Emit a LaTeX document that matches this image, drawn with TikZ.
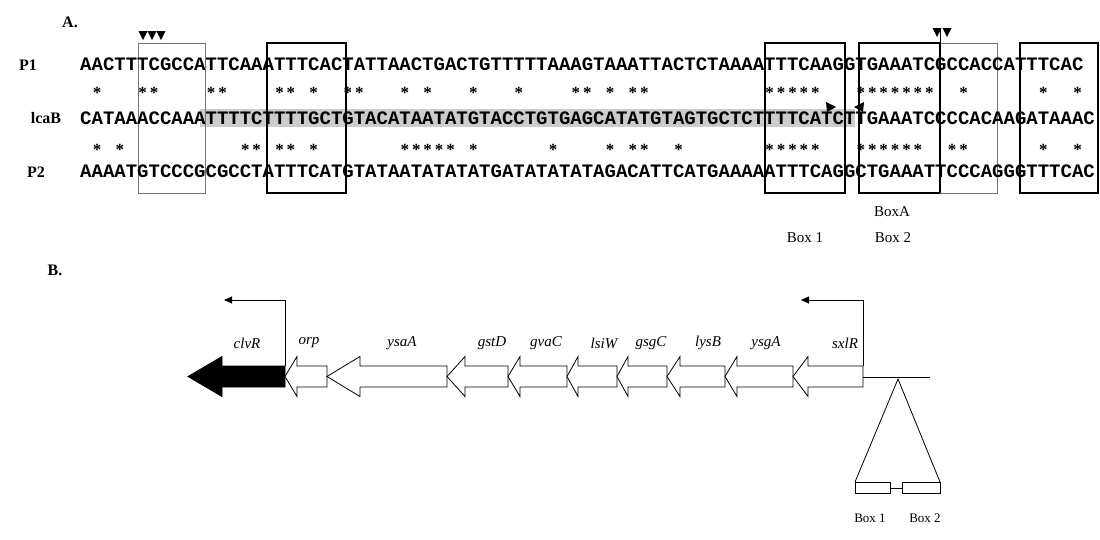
\documentclass[tikz,border=0pt]{standalone}
\usepackage{fontspec}
\setmainfont{Liberation Serif}
\newfontfamily\seqfont{Liberation Mono}
\usetikzlibrary{arrows.meta}
\begin{document}
\begin{tikzpicture}[x=1pt,y=-1pt,
  seq/.style={font=\seqfont\bfseries\fontsize{19}{19}\selectfont, anchor=west, inner sep=0pt},
  rowlbl/.style={font=\bfseries\fontsize{16}{16}\selectfont, inner sep=0pt},
  ast/.style={font=\bfseries\fontsize{17}{17}\selectfont, inner sep=0pt, anchor=base},
  part/.style={font=\bfseries\fontsize{16}{16}\selectfont, inner sep=0pt},
  boxlbl/.style={font=\fontsize{15}{15}\selectfont, inner sep=0pt},
  tbox/.style={draw=black, line width=1.4pt},
  thinbox/.style={draw=black!55, line width=0.7pt},
  blackmark/.style={fill=black},
  gene/.style={draw=black, line width=0.8pt, fill=white},
  blackgene/.style={draw=black, line width=0.8pt, fill=black},
  glabel/.style={font=\itshape\fontsize{15}{15}\selectfont, inner sep=0pt},
  prom/.style={line width=0.9pt, -{Triangle[length=8pt,width=7pt]}},
  plainline/.style={line width=0.8pt}
]
\useasboundingbox (0,0) rectangle (1100,539);

% ---------- Part A ----------
\node[part] (A) at (70,22) {A.};

% highlight behind lcaB
\fill[black!20] (200,109) rectangle (855,127);

% boxes
\draw[thinbox] (138,43) rectangle (205,193);
\draw[tbox] (267,43) rectangle (346,193);
\draw[tbox] (765,43) rectangle (845,193);
\draw[tbox] (859,43) rectangle (940,193);
\draw[thinbox] (940,43) rectangle (997,193);
\draw[tbox] (1020,43) rectangle (1098,193);
\draw[line width=1pt] (940,30) -- (940,193);

% triangles markers
\foreach \mx in {143,152,161} \fill[blackmark] (\mx-4.5,31) -- (\mx+4.5,31) -- (\mx,40) -- cycle;
\foreach \mx in {937,947} \fill[blackmark] (\mx-4.5,28) -- (\mx+4.5,28) -- (\mx,37) -- cycle;

% row labels
\node[rowlbl] (lP1) at (28,65) {P1};
\node[rowlbl] (llca) at (46,118) {lcaB};
\node[rowlbl] (lP2) at (36,172) {P2};

% sequences
\node[seq] (s1) at (80,64) {AACTTTCGCCATTCAAATTTCACTATTAACTGACTGTTTTTAAAGTAAATTACTCTAAAATTTCAAGGTGAAATCGCCACCATTTCAC};
\node[seq] (s2) at (80,118) {CATAAACCAAATTTTCTTTTGCTGTACATAATATGTACCTGTGAGCATATGTAGTGCTCTTTTCATCTTGAAATCCCCACAAGATAAAC};
\node[seq] (s3) at (80,171) {AAAATGTCCCGCGCCTATTTCATGTATAATATATATGATATATATAGACATTCATGAAAAATTTCAGGCTGAAATTCCCAGGGTTTCAC};

% identity stars
\foreach \i in {1,5,6,11,12,17,18,20,23,24,28,30,34,38,43,44,46,48,49,60,61,62,63,64,68,69,70,71,72,73,74,77,84,87}
  \node[ast] at ({80+(\i+0.5)*11.4},98) {*};
\foreach \i in {1,3,14,15,17,18,20,28,29,30,31,32,34,41,46,48,49,52,60,61,62,63,64,68,69,70,71,72,73,76,77,84,87}
  \node[ast] at ({80+(\i+0.5)*11.4},155) {*};

% small arrowheads on lcaB row
\fill[blackmark] (826,102) -- (836,107) -- (827,112) -- cycle;
\fill[blackmark] (864,102) -- (854,107) -- (863,112) -- cycle;

% box labels
\node[boxlbl] (bA) at (892,212) {BoxA};
\node[boxlbl] (b1) at (805,238) {Box 1};
\node[boxlbl] (b2) at (893,238) {Box 2};

% ---------- Part B ----------
\node[part] (B) at (55,270) {B.};

% black gene
\draw[blackgene] (188,376.5) -- (222,356.5) -- (222,366) -- (285,366) -- (285,387) -- (222,387) -- (222,396.5) -- cycle;
% white genes: tip, head base, end
\foreach \t/\b/\e in {285/297/327, 327/360/447, 447/465/508, 508/520/567, 567/578/617, 617/628/667, 667/680/725, 725/737/793, 793/808/863}
  \draw[gene] (\t,376.5) -- (\b,356.5) -- (\b,366) -- (\e,366) -- (\e,387) -- (\b,387) -- (\b,396.5) -- cycle;

% gene labels
\node[glabel] (g1) at (247,343) {clvR};
\node[glabel] (g2) at (309,343) {orp};
\node[glabel] (g3) at (402,343) {ysaA};
\node[glabel] (g4) at (492,343) {gstD};
\node[glabel] (g5) at (546,343) {gvaC};
\node[glabel] (g6) at (604,343) {lsiW};
\node[glabel] (g7) at (651,343) {gsgC};
\node[glabel] (g8) at (708,343) {lysB};
\node[glabel] (g9) at (766,343) {ysgA};
\node[glabel] (g10) at (845,343) {sxlR};

% promoters
\coordinate (p1a) at (285,366);
\coordinate (p1b) at (285,300);
\coordinate (p1c) at (224,300);
\draw[prom] (p1a) -- (p1b) -- (p1c);
\coordinate (p2a) at (863,366);
\coordinate (p2b) at (863,300);
\coordinate (p2c) at (801,300);
\draw[prom] (p2a) -- (p2b) -- (p2c);

% line and zoom triangle
\draw[plainline] (863,377) -- (930,377);
\coordinate (apex) at (898,379);
\draw[plainline] (855,482) -- (apex) -- (940,482);
\node[draw, line width=1pt, minimum width=35pt, minimum height=11pt, inner sep=0pt, anchor=north west] (bx1) at (855,482) {};
\node[draw, line width=1pt, minimum width=38pt, minimum height=11pt, inner sep=0pt, anchor=north west] (bx2) at (902,482) {};
\draw[plainline] (bx1.east) -- (bx2.west);
\node[boxlbl, font=\fontsize{13}{13}\selectfont] (lb1) at (870,518) {Box 1};
\node[boxlbl, font=\fontsize{13}{13}\selectfont] (lb2) at (925,518) {Box 2};
\end{tikzpicture}
\end{document}
